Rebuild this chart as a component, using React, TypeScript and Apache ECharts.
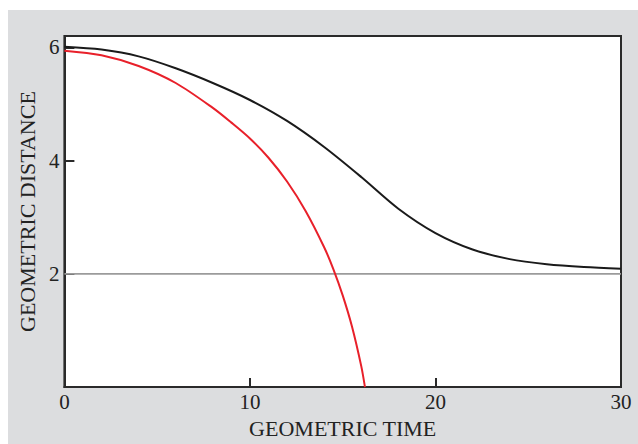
import React, { useEffect, useRef } from "react";
import * as echarts from "echarts";

const blackTime = [0, 2, 4, 6, 8, 10, 12, 14, 16, 18, 20, 22, 24, 26, 28, 30];
const blackDist = [6.01, 5.96, 5.84, 5.63, 5.37, 5.07, 4.7, 4.24, 3.71, 3.15, 2.72, 2.43, 2.26, 2.17, 2.12, 2.09];

const redTime = [0, 2, 4, 6, 8, 9, 10, 11, 12, 13, 14, 14.5, 15, 15.5, 16, 16.2];
const redDist = [5.94, 5.86, 5.67, 5.37, 4.93, 4.67, 4.39, 4.05, 3.63, 3.11, 2.47, 2.08, 1.62, 1.07, 0.37, 0];

const horizonTime = [0, 30];
const horizonDist = [2, 2];

const xTicks = [0, 10, 20, 30];
const yTicks = [2, 4, 6];

const xTitle = "GEOMETRIC TIME";
const yTitle = "GEOMETRIC DISTANCE";

const FONT = "Liberation Serif";

export default function App() {
  const ref = useRef<HTMLDivElement>(null);
  useEffect(() => {
    if (!ref.current) return;
    const chart = echarts.init(ref.current, undefined, { renderer: "svg" });
    const zip = (a: number[], b: number[]) => a.map((v, i) => [v, b[i]]);
    chart.setOption({
      animation: false,
      backgroundColor: "#dcdddf",
      grid: {
        left: 54,
        top: 26,
        right: 17,
        bottom: 49,
        show: true,
        backgroundColor: "#ffffff",
        borderColor: "#2a2a2a",
        borderWidth: 2,
      },
      xAxis: {
        type: "value",
        min: 0,
        max: 30,
        interval: 10,
        name: xTitle,
        nameLocation: "middle",
        nameGap: 27,
        nameTextStyle: { fontFamily: FONT, fontSize: 22, color: "#222" },
        axisLine: { show: true, lineStyle: { color: "#2a2a2a", width: 2 } },
        axisTick: { show: true, inside: true, length: 9, lineStyle: { color: "#2a2a2a", width: 2 } },
        axisLabel: {
          fontFamily: FONT,
          fontSize: 21,
          color: "#222",
          margin: 4,
          formatter: (v: number) => (xTicks.includes(v) ? String(v) : ""),
        },
        splitLine: { show: false },
      },
      yAxis: {
        type: "value",
        min: 0,
        max: 6.2,
        interval: 2,
        name: yTitle,
        nameLocation: "middle",
        nameGap: 20,
        nameTextStyle: { fontFamily: FONT, fontSize: 22, color: "#222" },
        axisLine: { show: true, lineStyle: { color: "#2a2a2a", width: 2 } },
        axisTick: { show: true, inside: true, length: 10, lineStyle: { color: "#2a2a2a", width: 2 } },
        axisLabel: {
          fontFamily: FONT,
          fontSize: 21,
          color: "#222",
          margin: 5,
          showMaxLabel: false,
          formatter: (v: number) => (yTicks.includes(v) ? String(v) : ""),
        },
        splitLine: { show: false },
      },
      series: [
        {
          type: "line",
          data: zip(horizonTime, horizonDist),
          showSymbol: false,
          lineStyle: { color: "#9b9b9b", width: 1.8 },
          z: 1,
        },
        {
          type: "line",
          data: zip(blackTime, blackDist),
          smooth: 0.3,
          showSymbol: false,
          lineStyle: { color: "#1a1a1a", width: 2 },
          z: 2,
        },
        {
          type: "line",
          data: zip(redTime, redDist),
          smooth: 0.3,
          showSymbol: false,
          lineStyle: { color: "#e8202a", width: 2 },
          z: 3,
        },
      ],
    });
    return () => chart.dispose();
  }, []);
  return (
    <div
      ref={ref}
      style={{ position: "absolute", left: 8, top: 10, width: 630, height: 434 }}
    />
  );
}
